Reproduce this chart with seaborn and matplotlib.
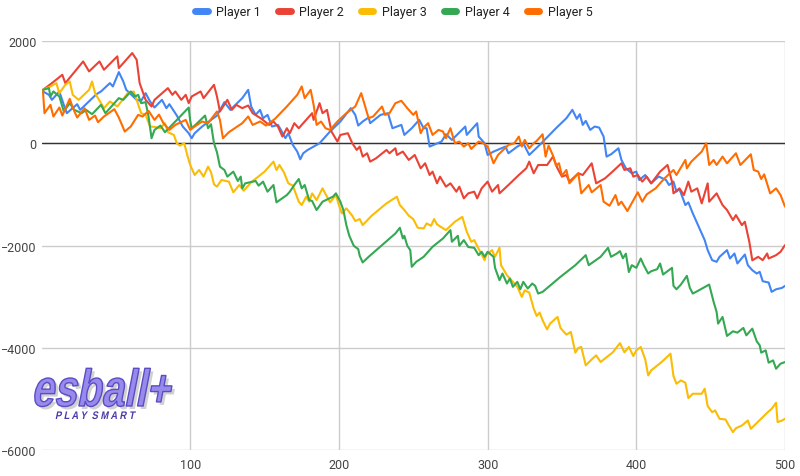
import numpy as np
import pandas as pd
import matplotlib
matplotlib.use("Agg")
import matplotlib.pyplot as plt
from matplotlib.textpath import TextPath
from matplotlib.patches import PathPatch
from matplotlib.font_manager import FontProperties
from matplotlib.transforms import Affine2D, IdentityTransform
import seaborn as sns

# values (step, running total)
p1_x = [1, 5, 7, 12, 15, 17, 24, 26, 37, 40, 46, 48, 52, 55, 57, 64, 67, 70, 73, 76,
        81, 84, 86, 91, 95, 99, 101, 103, 108, 112, 118, 123, 127, 135, 139, 141, 144, 147, 149, 152,
        155, 159, 161, 164, 166, 169, 172, 174, 176, 179, 187, 194, 201, 208, 211, 213, 216, 220, 221, 228,
        233, 234, 236, 242, 244, 249, 254, 257, 259, 261, 269, 272, 276, 285, 286, 293, 294, 298, 300, 304,
        312, 314, 320, 324, 328, 335, 346, 353, 357, 360, 362, 364, 366, 369, 372, 375, 378, 380, 383, 388,
        390, 393, 397, 400, 402, 406, 410, 415, 420, 422, 425, 427, 429, 433, 435, 438, 441, 444, 446, 448,
        451, 454, 456, 461, 463, 466, 468, 473, 475, 478, 481, 483, 485, 489, 491, 494, 498, 500]
p1_y = [1013, 947, 849, 1013, 751, 588, 764, 653, 960, 1013, 1176, 1111, 1392, 1209, 1045, 849, 829, 980, 817, 700,
        849, 686, 764, 542, 327, 196, 98, 196, 327, 412, 542, 804, 653, 882, 1045, 719, 555, 653, 490, 555,
        327, 359, 261, 100, 196, -33, -163, -314, -196, -131, 0, 229, 425, 686, 555, 346, 425, 503, 392, 555,
        588, 490, 294, 359, 163, 294, 457, 294, 294, -65, 33, 176, 65, 327, 163, 392, 131, 0, -229, -163,
        -65, -196, -65, 0, -229, -33, 294, 490, 653, 477, 568, 359, 438, 261, 327, 307, 131, -261, -216, -98,
        -327, -490, -588, -555, -719, -621, -784, -650, -719, -817, -751, -947, -895, -1209, -1156, -1372, -1568, -1764, -1895, -2091,
        -2287, -2319, -2221, -2091, -2254, -2156, -2352, -2176, -2385, -2483, -2548, -2515, -2699, -2724, -2907, -2856, -2829, -2790]

p2_x = [1, 7, 14, 16, 28, 32, 39, 42, 51, 52, 61, 64, 66, 70, 74, 76, 85, 88, 90, 94,
        97, 99, 101, 107, 109, 116, 118, 120, 125, 128, 131, 135, 139, 142, 148, 153, 156, 159, 162, 165,
        167, 170, 173, 182, 183, 187, 189, 192, 195, 199, 201, 206, 209, 212, 214, 216, 219, 221, 225, 232,
        234, 238, 239, 243, 247, 251, 255, 258, 261, 263, 266, 268, 272, 275, 279, 281, 284, 287, 291, 293,
        296, 300, 303, 307, 308, 314, 321, 326, 328, 331, 334, 340, 344, 347, 350, 353, 355, 361, 364, 370,
        373, 379, 384, 390, 392, 396, 398, 401, 404, 407, 410, 416, 421, 424, 425, 429, 432, 435, 437, 441,
        444, 448, 449, 454, 458, 461, 465, 467, 471, 473, 476, 478, 482, 485, 488, 489, 494, 497, 500]
p2_y = [1045, 1176, 1339, 1176, 1600, 1405, 1600, 1437, 1700, 1470, 1764, 1633, 1176, 849, 719, 849, 1078, 947, 1013, 849,
        947, 784, 915, 1013, 882, 1143, 915, 621, 849, 653, 751, 686, 738, 588, 477, 359, 425, 327, 131, 294,
        196, 392, 294, 588, 457, 784, 588, 653, 229, 33, 163, 196, 0, -131, -65, -261, -196, -359, -294, -131,
        -196, -98, -229, -163, -327, -229, -490, -392, -621, -555, -784, -653, -849, -784, -947, -849, -1078, -980, -947, -1078,
        -882, -751, -947, -817, -980, -817, -621, -490, -359, -588, -425, -425, -261, -490, -653, -621, -751, -588, -621, -392,
        -784, -686, -555, -392, -523, -490, -653, -621, -751, -653, -784, -555, -425, -751, -980, -882, -1013, -751, -947, -882,
        -1176, -784, -1143, -980, -1209, -1306, -1503, -1405, -1601, -1535, -1927, -2290, -2221, -2287, -2156, -2254, -2189, -2123, -1993]

p3_x = [1, 6, 10, 12, 16, 19, 21, 25, 32, 34, 36, 42, 46, 51, 58, 62, 64, 67, 70, 73,
        76, 80, 83, 85, 89, 91, 93, 96, 98, 100, 103, 106, 109, 112, 114, 116, 118, 121, 126, 129,
        133, 136, 141, 150, 156, 158, 160, 163, 166, 169, 173, 175, 178, 180, 182, 185, 189, 192, 194, 198,
        200, 202, 205, 209, 211, 214, 216, 222, 232, 239, 241, 244, 247, 250, 253, 257, 259, 262, 264, 266,
        272, 278, 283, 286, 289, 291, 295, 298, 299, 303, 305, 308, 309, 313, 316, 320, 323, 325, 328, 331,
        333, 335, 337, 340, 342, 347, 349, 353, 356, 359, 361, 363, 366, 370, 373, 376, 381, 384, 389, 392,
        395, 398, 400, 403, 406, 408, 410, 417, 423, 425, 427, 430, 433, 435, 438, 444, 446, 448, 451, 453,
        456, 460, 462, 465, 467, 471, 475, 477, 482, 488, 491, 494, 495, 498, 500]
p3_y = [1045, 1111, 1176, 980, 1143, 1209, 947, 849, 1045, 1209, 980, 686, 817, 719, 980, 1013, 849, 588, 555, 327,
        320, 294, 392, 216, 163, 0, -46, 0, -229, -425, -621, -523, -653, -457, -568, -804, -849, -719, -751, -960,
        -817, -928, -764, -555, -359, -523, -425, -568, -784, -829, -1143, -1209, -1045, -1143, -980, -1111, -882, -1045, -1156, -1013,
        -1209, -1372, -1274, -1418, -1522, -1483, -1601, -1418, -1176, -1045, -1209, -1306, -1418, -1483, -1653, -1666, -1568, -1614, -1483, -1588,
        -1699, -1535, -1440, -1731, -1927, -1895, -2123, -2287, -2189, -2091, -2221, -2044, -2385, -2581, -2679, -2809, -3005, -2875, -2920, -3234,
        -3378, -3312, -3463, -3640, -3528, -3397, -3613, -3744, -3691, -4096, -4005, -3985, -4345, -4228, -4149, -4279, -4162, -4096, -3910, -4090,
        -3985, -4162, -4051, -3985, -4228, -4541, -4443, -4280, -4116, -4553, -4704, -4639, -4684, -4985, -4900, -4900, -4802, -5142, -5260, -5227,
        -5390, -5403, -5508, -5651, -5573, -5521, -5423, -5586, -5443, -5272, -5194, -5076, -5455, -5423, -5390]

p4_x = [1, 5, 6, 8, 12, 15, 19, 22, 27, 30, 34, 40, 43, 52, 55, 60, 63, 65, 67, 70,
        72, 74, 76, 80, 83, 90, 99, 100, 101, 104, 110, 112, 114, 116, 118, 120, 123, 125, 129, 132,
        134, 135, 137, 144, 146, 149, 152, 156, 158, 165, 167, 170, 173, 175, 177, 180, 182, 185, 189, 196,
        198, 201, 203, 205, 207, 210, 213, 214, 216, 220, 229, 238, 241, 243, 244, 246, 248, 249, 252, 257,
        263, 270, 275, 276, 280, 281, 284, 287, 291, 294, 296, 298, 300, 304, 305, 308, 310, 313, 315, 317,
        320, 322, 324, 327, 330, 332, 334, 337, 349, 359, 366, 368, 376, 381, 383, 387, 389, 391, 393, 395,
        397, 400, 403, 405, 408, 410, 414, 416, 418, 424, 425, 427, 430, 434, 436, 438, 441, 449, 452, 454,
        455, 458, 460, 461, 465, 468, 472, 474, 478, 481, 483, 484, 487, 489, 492, 494, 497, 500]
p4_y = [1045, 1078, 915, 1013, 915, 621, 784, 653, 588, 653, 568, 751, 588, 882, 849, 1013, 915, 947, 784, 804,
        523, 98, 261, 346, 216, 425, 699, 438, 294, 372, 542, 294, 372, 0, -176, -457, -523, -653, -555, -738,
        -653, -882, -784, -738, -829, -751, -947, -817, -1156, -1013, -947, -817, -699, -882, -817, -1111, -1130, -1306, -1143, -1045,
        -980, -1143, -1306, -1601, -1810, -2006, -2071, -2202, -2332, -2221, -1993, -1764, -1653, -1862, -1810, -2006, -2091, -2417, -2319, -2221,
        -2025, -1862, -1699, -1927, -1810, -2006, -1895, -2030, -2045, -2189, -2123, -2221, -2123, -2221, -2437, -2679, -2548, -2744, -2646, -2809,
        -2711, -2856, -2711, -2842, -2744, -2790, -2940, -2907, -2613, -2385, -2189, -2385, -2221, -2045, -2221, -2156, -2110, -2250, -2160, -2520,
        -2385, -2437, -2254, -2385, -2548, -2503, -2464, -2352, -2568, -2437, -2790, -2856, -2764, -2594, -2829, -2940, -2894, -2764, -3103, -3299,
        -3528, -3397, -3640, -3769, -3678, -3704, -3612, -3757, -3626, -3875, -3953, -4096, -4051, -4292, -4247, -4410, -4312, -4280]

p5_x = [1, 2, 6, 8, 12, 14, 19, 21, 24, 29, 32, 36, 38, 42, 49, 52, 56, 60, 65, 68,
        72, 76, 79, 82, 86, 90, 97, 100, 102, 108, 112, 118, 120, 122, 126, 135, 139, 142, 147, 151,
        157, 165, 167, 172, 175, 177, 181, 183, 185, 188, 191, 194, 199, 205, 211, 215, 218, 220, 223, 229,
        231, 234, 238, 242, 246, 250, 252, 255, 257, 260, 263, 267, 270, 272, 275, 278, 281, 284, 287, 289,
        294, 297, 300, 304, 307, 314, 318, 321, 323, 325, 328, 331, 333, 337, 339, 341, 344, 346, 348, 350,
        353, 355, 361, 363, 368, 370, 376, 378, 382, 386, 388, 390, 394, 401, 404, 407, 413, 419, 425, 427,
        433, 434, 437, 444, 447, 449, 452, 454, 458, 461, 467, 470, 477, 479, 482, 484, 486, 490, 494, 497,
        500]
p5_y = [1013, 588, 751, 523, 699, 542, 869, 699, 503, 686, 457, 542, 412, 523, 666, 503, 229, 327, 555, 523,
        634, 457, 560, 392, 261, 359, 457, 261, 307, 425, 392, 621, 457, 98, 216, 392, 523, 359, 425, 346,
        477, 719, 784, 947, 1111, 882, 1045, 751, 359, 425, 294, 261, 425, 588, 719, 980, 686, 490, 523, 719,
        555, 588, 784, 830, 686, 555, 621, 196, 307, 392, 163, 261, 229, 98, 294, 0, 33, -65, 0, -111,
        33, 0, -65, -392, -229, -33, 0, 131, -65, 65, -98, 0, 46, 176, -261, -46, -242, -438, -392, -634,
        -523, -784, -588, -980, -817, -960, -817, -1143, -1222, -1013, -1209, -1143, -1326, -960, -1143, -1000, -882, -686, -523, -621,
        -327, -490, -359, -163, 0, -425, -327, -425, -261, -392, -196, -425, -216, -523, -555, -699, -608, -980, -882, -1013,
        -1240]

players = ["Player 1", "Player 2", "Player 3", "Player 4", "Player 5"]
colors = ["#4285f4", "#ea4335", "#fbbc04", "#34a853", "#ff6d01"]
x_ticks = [100, 200, 300, 400, 500]
y_ticks = [-6000, -4000, -2000, 0, 2000]

frames = []
for name, xs, ys in zip(players, [p1_x, p2_x, p3_x, p4_x, p5_x], [p1_y, p2_y, p3_y, p4_y, p5_y]):
    frames.append(pd.DataFrame({"step": xs, "total": ys, "player": name}))
df = pd.concat(frames, ignore_index=True)

sns.set_theme(style="white")
plt.rcParams["font.family"] = ["Roboto", "DejaVu Sans"]

W, H = 800, 477
fig = plt.figure(figsize=(W / 100, H / 100), dpi=100)
ax = fig.add_axes([41.5 / W, 1 - 451 / H, (785 - 41.5) / W, (451 - 42) / H])

sns.lineplot(data=df, x="step", y="total", hue="player", palette=colors,
             estimator=None, sort=False, linewidth=1.5, ax=ax, legend=True)

ax.set_xlim(0, 500)
ax.set_ylim(-6000, 2000)
ax.set_xticks(x_ticks)
ax.set_yticks(y_ticks)
ax.set_xlabel("")
ax.set_ylabel("")
ax.tick_params(length=0, labelsize=9, colors="#444444")
ax.tick_params(axis="y", pad=3.5)
ax.tick_params(axis="x", pad=6)
ax.grid(True, color="#cccccc", linewidth=1)
ax.set_axisbelow(True)
for s in ax.spines.values():
    s.set_visible(False)
ax.axhline(0, color="#333333", linewidth=1, zorder=1.5)

handles, labels = ax.get_legend_handles_labels()
ax.get_legend().remove()
leg = fig.legend(handles, labels, loc="upper center", bbox_to_anchor=(0.4925, 1.01),
                 ncol=5, frameon=False, fontsize=9, handlelength=1.0,
                 handletextpad=0.7, columnspacing=1.35)
for h in leg.get_lines():
    h.set_linewidth(5)
for t in leg.get_texts():
    t.set_color("#222222")

# watermark logo, drawn as outlined text shapes in pixel coordinates
fp = FontProperties(family="Liberation Sans", weight="bold")
logo = TextPath((0, 0), "esball+", size=52, prop=fp)
logo_tr = Affine2D().skew_deg(14, 0).scale(0.78, 1.0).translate(31, H - 407)
shadow_tr = logo_tr + Affine2D().translate(3, -3)
fig.add_artist(PathPatch(shadow_tr.transform_path(logo), facecolor="#9a9a9a", edgecolor="none",
                         alpha=0.45, transform=IdentityTransform()))
fig.add_artist(PathPatch(logo_tr.transform_path(logo), facecolor="#978aec", edgecolor="#5a4cc4",
                         linewidth=1.0, transform=IdentityTransform()))
tag = TextPath((0, 0), "P L A Y  S M A R T", size=11, prop=fp)
tag_tr = Affine2D().skew_deg(14, 0).scale(0.85, 1.0).translate(55, H - 420)
fig.add_artist(PathPatch(tag_tr.transform_path(tag), facecolor="#4a3aa8", edgecolor="none",
                         transform=IdentityTransform()))

fig.savefig("out.png", dpi=100)
